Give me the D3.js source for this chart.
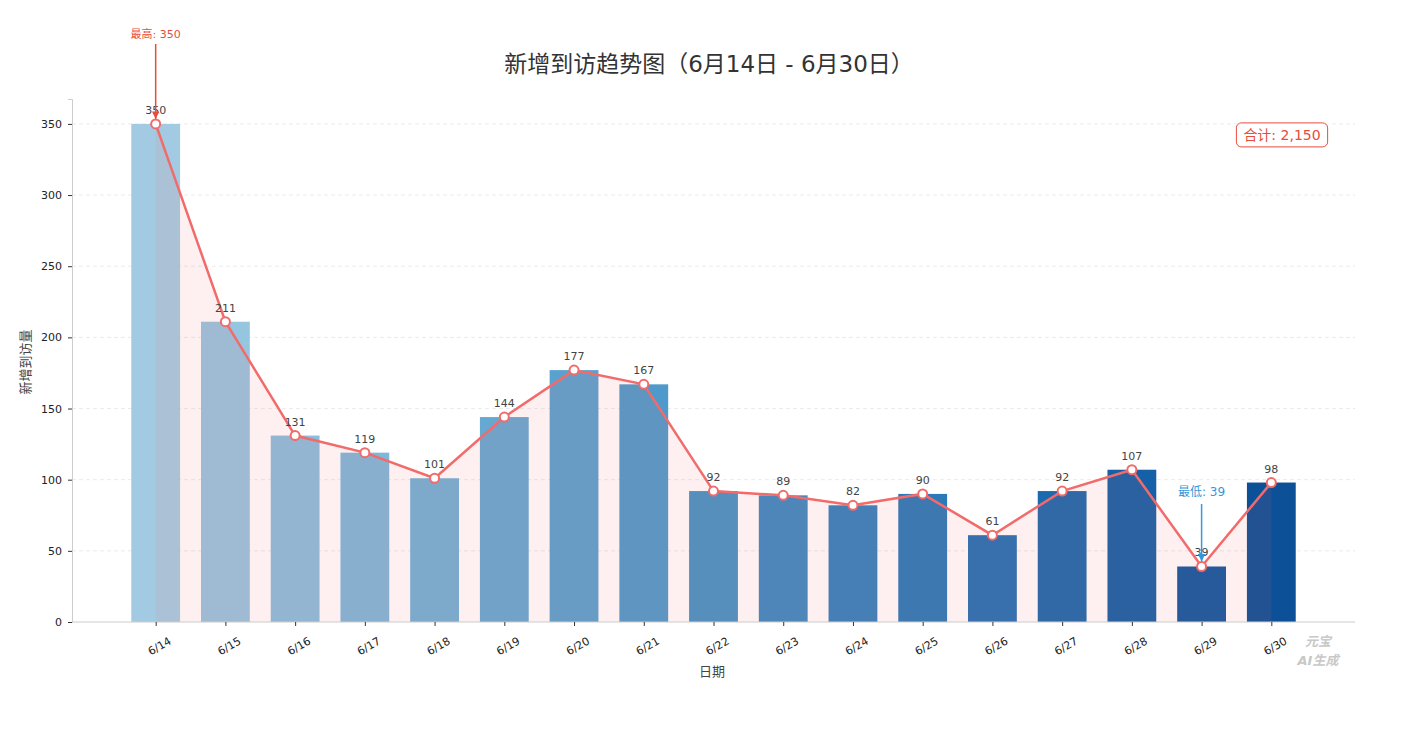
<!DOCTYPE html>
<html><head><meta charset="utf-8">
<script src="https://cdn.jsdelivr.net/npm/d3@7"></script>
<style>body{margin:0;background:#fff;font-family:"DejaVu Sans","Noto Sans CJK SC",sans-serif;}</style>
</head><body><svg id="c" width="1406" height="740"></svg>
<script>
const categories = ["6/14","6/15","6/16","6/17","6/18","6/19","6/20","6/21","6/22","6/23","6/24","6/25","6/26","6/27","6/28","6/29","6/30"];
const visits = [350,211,131,119,101,144,177,167,92,89,82,90,61,92,107,39,98];
const yTicks = [0,50,100,150,200,250,300,350];
const title = "新增到访趋势图（6月14日 - 6月30日）";
const xLabel = "日期", yLabel = "新增到访量";

const svg = d3.select("#c");
const font = '"DejaVu Sans","Noto Sans CJK SC",sans-serif';
const x = d3.scaleLinear().domain([-1.2, categories.length - 1 + 1.2]).range([72, 1355]);
const y = d3.scaleLinear().domain([0, 367.5]).range([622, 99]);
const step = x(1) - x(0);
const bw = step * 0.7;
const lineColor = "#f26b6b";
const barColor = t => d3.interpolateBlues(0.36 + t * 0.52);

// grid
svg.append("g").selectAll("line").data(yTicks.filter(d => d > 0)).join("line")
  .attr("x1", 72).attr("x2", 1355).attr("y1", d => y(d)).attr("y2", d => y(d))
  .attr("stroke", "#e6e6e6").attr("stroke-dasharray", "4,3").attr("stroke-width", 0.8);

// bars
svg.append("g").selectAll("rect").data(visits).join("rect")
  .attr("x", (d, i) => x(i) - bw / 2).attr("width", bw)
  .attr("y", d => y(d)).attr("height", d => y(0) - y(d))
  .attr("fill", (d, i) => barColor(i / (visits.length - 1)));

// area
const area = d3.area().x((d, i) => x(i)).y0(y(0)).y1(d => y(d));
svg.append("path").datum(visits).attr("d", area).attr("fill", lineColor).attr("fill-opacity", 0.1);

// axes
const yAxis = d3.axisLeft(y).tickValues(yTicks).tickSize(4).tickPadding(6);
const gy = svg.append("g").attr("transform", "translate(72,0)").call(yAxis);
gy.select(".domain").attr("stroke", "#cccccc");
gy.selectAll(".tick line").attr("stroke", "#333");
gy.selectAll(".tick text").attr("font-family", font).attr("font-size", 11).attr("fill", "#222");

const xAxis = d3.axisBottom(x).tickValues(d3.range(categories.length)).tickFormat(i => categories[i]).tickSize(4).tickPadding(6);
const gx = svg.append("g").attr("transform", "translate(0,622)").call(xAxis);
gx.select(".domain").attr("stroke", "#cccccc").attr("d", "M72,0H1355");
gx.selectAll(".tick line").attr("stroke", "#333");
gx.selectAll(".tick text").attr("font-family", font).attr("font-size", 11).attr("fill", "#222")
  .attr("text-anchor", "end").attr("transform", "translate(6,4) rotate(-30)").attr("dy", "0.9em");

// line
const line = d3.line().x((d, i) => x(i)).y(d => y(d));
svg.append("path").datum(visits).attr("d", line).attr("fill", "none").attr("stroke", lineColor).attr("stroke-width", 2.5);
svg.append("g").selectAll("circle").data(visits).join("circle")
  .attr("cx", (d, i) => x(i)).attr("cy", d => y(d)).attr("r", 4.5)
  .attr("fill", "#fff").attr("stroke", lineColor).attr("stroke-width", 2);

// value labels
svg.append("g").selectAll("text").data(visits).join("text")
  .attr("x", (d, i) => x(i)).attr("y", d => y(d) - 10).attr("text-anchor", "middle")
  .attr("font-family", font).attr("font-size", 11).attr("fill", "#444").text(d => d);

// annotations
const defs = svg.append("defs");
function marker(id, color) {
  defs.append("marker").attr("id", id).attr("viewBox", "0 0 10 10").attr("refX", 10).attr("refY", 5)
    .attr("markerWidth", 5).attr("markerHeight", 5).attr("orient", "auto")
    .append("path").attr("d", "M0,0L10,5L0,10z").attr("fill", color);
}
marker("mr", "#e74c3c"); marker("mb", "#3498db");
const iMax = visits.indexOf(d3.max(visits)), iMin = visits.indexOf(d3.min(visits));
svg.append("line").attr("x1", x(iMax)).attr("x2", x(iMax)).attr("y1", 44).attr("y2", y(visits[iMax]) - 5)
  .attr("stroke", "#e74c3c").attr("stroke-width", 1.5).attr("marker-end", "url(#mr)");
svg.append("text").attr("x", x(iMax)).attr("y", 38).attr("text-anchor", "middle").attr("font-family", font)
  .attr("font-size", 11).attr("fill", "#e74c3c").text("最高: " + visits[iMax]);
svg.append("line").attr("x1", x(iMin)).attr("x2", x(iMin)).attr("y1", 504).attr("y2", y(visits[iMin]) - 5)
  .attr("stroke", "#3498db").attr("stroke-width", 1.5).attr("marker-end", "url(#mb)");
svg.append("text").attr("x", x(iMin)).attr("y", 496).attr("text-anchor", "middle").attr("font-family", font)
  .attr("font-size", 12).attr("fill", "#3498db").text("最低: " + visits[iMin]);

// total box
const total = d3.sum(visits);
const tb = svg.append("g").attr("transform", "translate(1282,135)");
const tt = tb.append("text").attr("text-anchor", "middle").attr("dy", "0.35em").attr("font-family", font)
  .attr("font-size", 14).attr("fill", "#e74c3c").text("合计: " + d3.format(",")(total));
const bb = tt.node().getBBox();
tb.insert("rect", "text").attr("x", bb.x - 7).attr("y", bb.y - 4).attr("width", bb.width + 14).attr("height", bb.height + 8)
  .attr("rx", 5).attr("fill", "#fff").attr("stroke", "#e74c3c").attr("stroke-width", 1);

// titles
svg.append("text").attr("x", 709).attr("y", 72).attr("text-anchor", "middle").attr("font-family", font)
  .attr("font-size", 23).attr("fill", "#333").text(title);
svg.append("text").attr("x", 712).attr("y", 676).attr("text-anchor", "middle").attr("font-family", font)
  .attr("font-size", 13).attr("fill", "#444").text(xLabel);
svg.append("text").attr("transform", "translate(30,362) rotate(-90)").attr("text-anchor", "middle").attr("font-family", font)
  .attr("font-size", 13).attr("fill", "#444").text(yLabel);

// watermark
svg.append("text").attr("x", 1318).attr("y", 646).attr("text-anchor", "middle").attr("font-family", font)
  .attr("font-size", 13).attr("font-weight", "bold").attr("font-style", "italic").attr("fill", "#c8c8c8").text("元宝");
svg.append("text").attr("x", 1318).attr("y", 665).attr("text-anchor", "middle").attr("font-family", font)
  .attr("font-size", 13).attr("font-weight", "bold").attr("font-style", "italic").attr("fill", "#c8c8c8").text("AI生成");
</script></body></html>
